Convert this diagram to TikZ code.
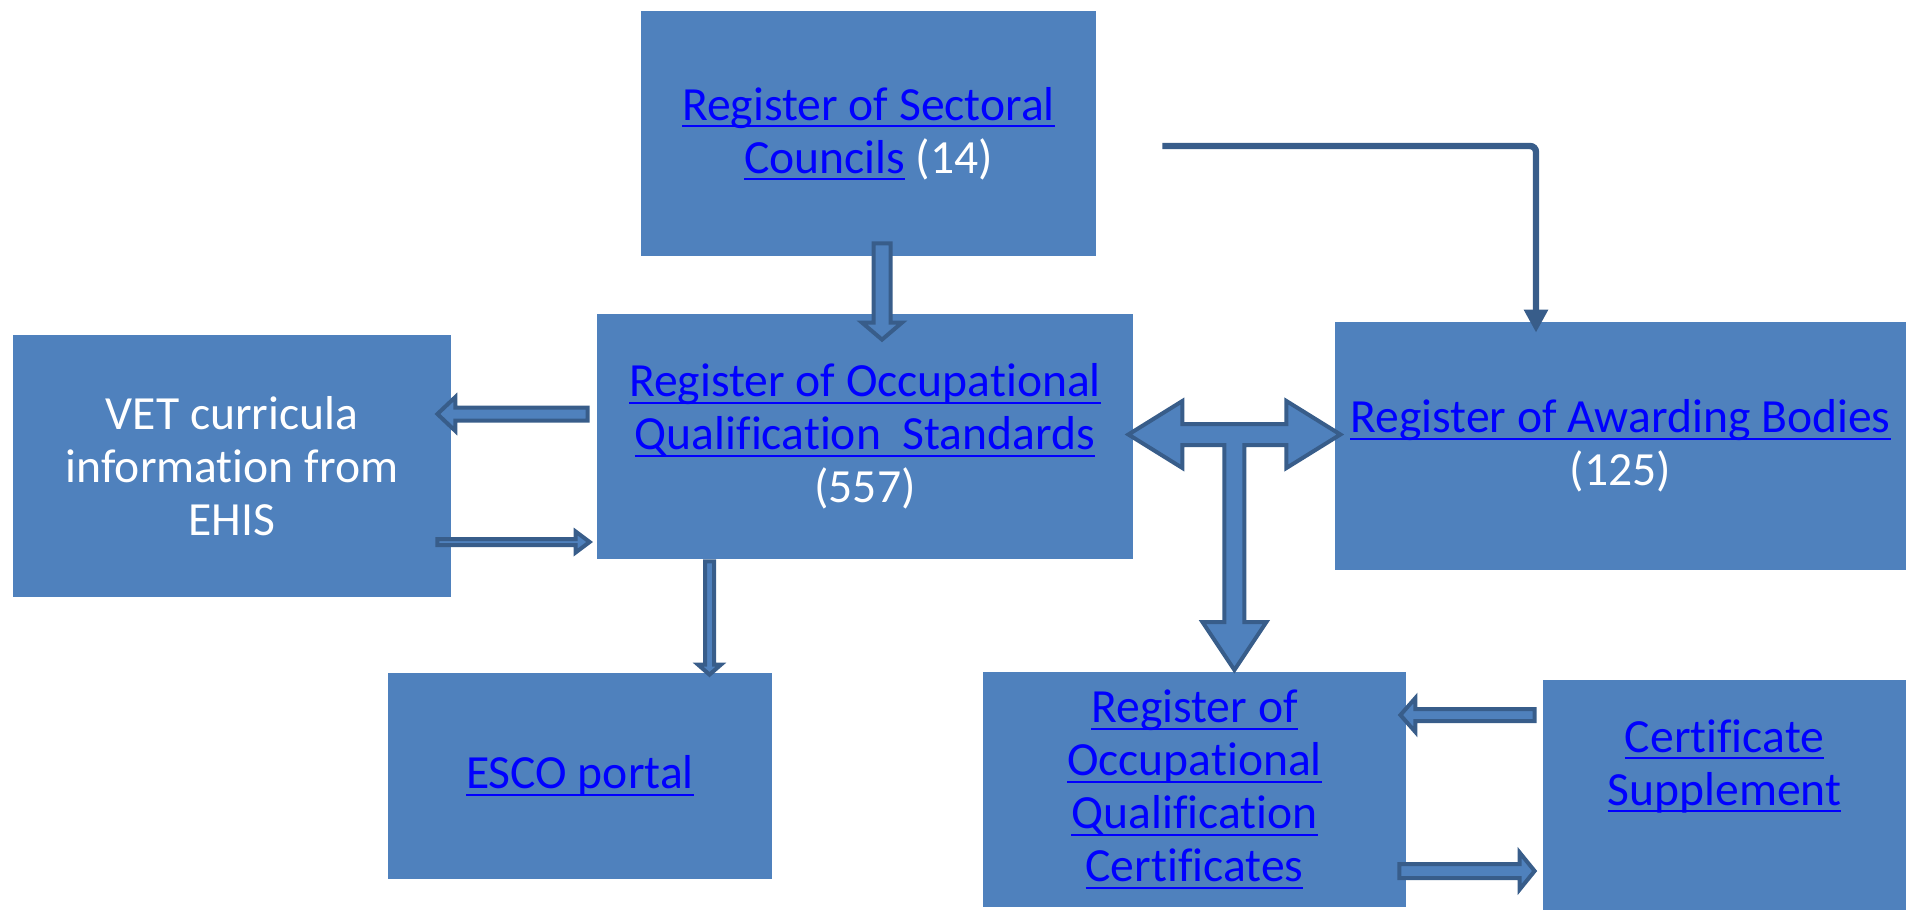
\documentclass[tikz,border=0pt]{standalone}
\usepackage{fontspec}
\setmainfont[Ligatures=NoCommon]{Carlito}
\usetikzlibrary{calc,arrows.meta}
\definecolor{boxblue}{HTML}{4F81BD}
\definecolor{arrowline}{HTML}{385D8A}
\definecolor{linkblue}{HTML}{0000FF}
\newlength\lnkwd
\newcommand\lnk[1]{\settowidth\lnkwd{#1}\textcolor{linkblue}{\rlap{\rule[-3.5pt]{\lnkwd}{1pt}}#1}}
\newcommand\blockarrow[5]{%
    \path[barrow] let \p1=(#1), \p2=(#2), \n1={atan2(\y2-\y1,\x2-\x1)}, \n2={veclen(\x2-\x1,\y2-\y1)} in
        [shift={(\p1)}, rotate=\n1]
        (0pt,{-#3/4*1pt}) -- ({\n2-#5/2*1pt},{-#3/4*1pt}) -- ({\n2-#5/2*1pt},{-#4/4*1pt})
        -- ({\n2},0pt) -- ({\n2-#5/2*1pt},{#4/4*1pt}) -- ({\n2-#5/2*1pt},{#3/4*1pt})
        -- (0pt,{#3/4*1pt}) -- cycle;}
\begin{document}
\begin{tikzpicture}[x=0.5pt, y=-0.5pt,
        register/.style={fill=boxblue, text=white, inner sep=0pt, align=center,
            font=\fontsize{23.8}{26.5}\selectfont},
        barrow/.style={draw=arrowline, fill=boxblue, line width=2pt, line join=miter}]
    \useasboundingbox (0,0) rectangle (1906,910);
    \node[register, minimum width=227.5pt, minimum height=122.5pt] (sect) at (868.5,133.5)
        {\lnk{Register of Sectoral}\\\lnk{Councils} (14)};
    \node[register, minimum width=268pt, minimum height=122.5pt] (stds) at (865,436.5)
        {\lnk{Register of Occupational}\\\lnk{Qualification\ \ Standards}\\(557)};
    \node[register, minimum width=219pt, minimum height=131pt] (vet) at (232,466)
        {VET curricula\\information from\\EHIS};
    \node[register, minimum width=192pt, minimum height=103pt] (esco) at (580,776)
        {\lnk{ESCO portal}};
    \node[register, minimum width=285.5pt, minimum height=124pt] (award) at (1620.5,446)
        {\lnk{Register of Awarding Bodies}\\(125)};
    \node[register, minimum width=211.5pt, minimum height=117.5pt] (cert) at (1194.5,789.5)
        {\lnk{Register of}\\\lnk{Occupational}\\\lnk{Qualification}\\\lnk{Certificates}};
    \node[register, minimum width=181.5pt, minimum height=115pt] (supp) at (1724.5,795)
        {\lnk{Certificate}\\\lnk{Supplement}\\[6pt]};

    \draw[arrowline, line width=3.2pt, rounded corners=3pt, -{Triangle[width=11.5pt,length=11.5pt]}]
        ($(sect.east)+(66,12.5)$) -| ($(award.north)+(-84.5,11)$);

    \blockarrow{$(sect.south)+(13.5,-13)$}{$(stds.north)+(17,26)$}{17}{40}{17}
    \blockarrow{$(stds.west)+(-9,-22.5)$}{$(vet.east)+(-14,-52)$}{13}{34}{18}
    \blockarrow{$(vet.east)+(-14,76)$}{$(stds.west)+(-7,105.5)$}{6}{21}{14}
    \blockarrow{$(stds.south)+(-155.5,2)$}{$(esco.north)+(129.5,2)$}{9}{23}{10}
    \blockarrow{$(supp.west)+(-8,-80)$}{$(cert.east)+(-6,-74.5)$}{12}{34}{15}
    \blockarrow{$(cert.east)+(-7,81.5)$}{$(supp.west)+(-8,76)$}{14}{37}{15}

    \coordinate (tl) at ($(stds.east)+(-5,-2)$);
    \filldraw[barrow] (tl) -- ++(54,-33.5) -- ++(0,23) -- ++(104,0) -- ++(0,-23) -- ++(54,33.5)
        -- ++(-54,33.5) -- ++(0,-23) -- ++(-42,0) -- ++(0,177) -- ++(22,0) -- ++(-32,48)
        -- ++(-32,-48) -- ++(22,0) -- ++(0,-177) -- ++(-42,0) -- ++(0,23) -- cycle;
\end{tikzpicture}
\end{document}
